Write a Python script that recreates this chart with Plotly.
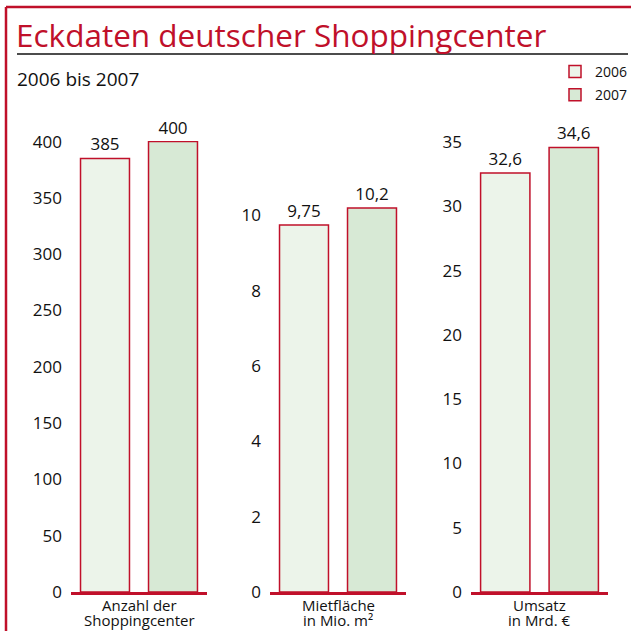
import plotly.graph_objects as go

# data
years = ["2006", "2007"]
shopping_centers = [385, 400]
rental_area = [9.75, 10.2]      # Mio. m2
turnover = [32.6, 34.6]         # Mrd. EUR

panel_labels = [("Anzahl der", "Shoppingcenter"),
                ("Mietfläche", "in Mio. m²"),
                ("Umsatz", "in Mrd. €")]
y_ranges = [[0, 400.5], [0, 11.98], [0, 35.1]]
y_dticks = [50, 2, 5]

RED = "#c0102a"
FILLS = ["#ecf4ea", "#d7e9d5"]
FONT = "Open Sans"
W = H = 631


def px(x):
    return x / W


def py_(y):
    return 1 - y / H


x_domains = [(71, 207), (270, 406), (471, 608)]
y_domain = [py_(592), py_(141)]

fig = go.Figure()

series = [shopping_centers, rental_area, turnover]
for i, vals in enumerate(series):
    ax = "" if i == 0 else str(i + 1)
    for j, yr in enumerate(years):
        fig.add_trace(go.Bar(
            x=[j], y=[vals[j]],
            name=yr,
            showlegend=(i == 0),
            legendgroup=yr,
            width=0.72,
            marker=dict(color=FILLS[j], line=dict(color=RED, width=1.5)),
            text=[f"{vals[j]:g}".replace(".", ",")],
            textposition="outside",
            textfont=dict(size=17, color="#111111", family=FONT),
            cliponaxis=False,
            xaxis="x" + ax, yaxis="y" + ax,
        ))

layout = dict(
    width=W, height=H,
    margin=dict(l=0, r=0, t=0, b=0, autoexpand=False),
    paper_bgcolor="white",
    plot_bgcolor="rgba(0,0,0,0)",
    font=dict(family=FONT, size=16, color="#111111"),
    barmode="overlay",
    legend=dict(
        x=px(555), y=py_(56), xanchor="left", yanchor="top",
        font=dict(size=14, family=FONT),
        bgcolor="rgba(0,0,0,0)",
        itemwidth=30,
        tracegroupgap=2,
    ),
)

for i in range(3):
    ax = "" if i == 0 else str(i + 1)
    layout["xaxis" + ax] = dict(
        domain=[px(x_domains[i][0]), px(x_domains[i][1])],
        range=[-0.5, 1.5],
        showticklabels=False, showgrid=False, zeroline=False,
        showline=True, linecolor=RED, linewidth=3,
        anchor="y" + ax, fixedrange=True, automargin=False,
    )
    layout["yaxis" + ax] = dict(
        domain=y_domain,
        range=y_ranges[i],
        dtick=y_dticks[i], tick0=0,
        showgrid=False, zeroline=False, showline=False,
        ticks="", ticklabelstandoff=8,
        tickfont=dict(size=17, family=FONT, color="#111111"),
        anchor="x" + ax, fixedrange=True, automargin=False,
    )

fig.update_layout(**layout)

# frame and title rule
fig.add_shape(type="line", xref="paper", yref="paper",
              x0=px(6), x1=px(6), y0=0, y1=py_(7),
              line=dict(color=RED, width=2.5))
fig.add_shape(type="line", xref="paper", yref="paper",
              x0=px(6), x1=1, y0=py_(7), y1=py_(7),
              line=dict(color=RED, width=2.5))
fig.add_shape(type="line", xref="paper", yref="paper",
              x0=px(17), x1=px(628), y0=py_(54), y1=py_(54),
              line=dict(color="#111111", width=1.5))

fig.add_annotation(text="Eckdaten deutscher Shoppingcenter",
                   xref="paper", yref="paper", x=px(14), y=py_(34),
                   xanchor="left", yanchor="middle", showarrow=False,
                   font=dict(size=31.5, color=RED, family=FONT))
fig.add_annotation(text="2006 bis 2007",
                   xref="paper", yref="paper", x=px(15), y=py_(79),
                   xanchor="left", yanchor="middle", showarrow=False,
                   font=dict(size=19, family=FONT))

for i, (line1, line2) in enumerate(panel_labels):
    cx = (x_domains[i][0] + x_domains[i][1]) / 2
    for k, txt in enumerate((line1, line2)):
        fig.add_annotation(text=txt, xref="paper", yref="paper",
                           x=px(cx), y=py_(605 + 15 * k),
                           xanchor="center", yanchor="middle",
                           showarrow=False,
                           font=dict(size=15, family=FONT))

fig.write_html("out.html", config={"displayModeBar": False},
               post_script="document.body.style.margin='0';")
